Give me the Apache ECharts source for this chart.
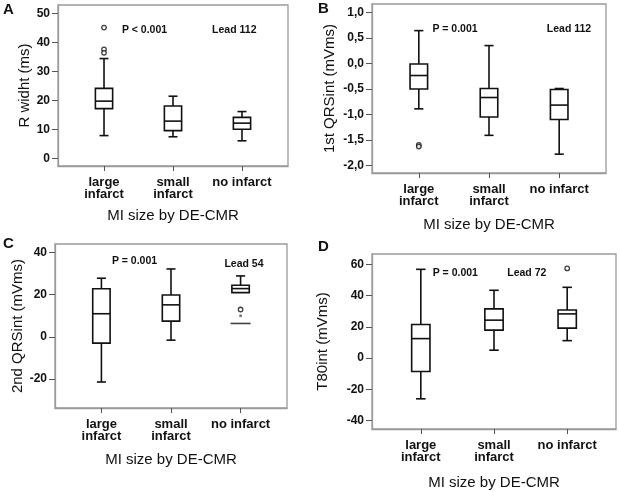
<!DOCTYPE html>
<html><head><meta charset="utf-8">
<script src="https://cdn.jsdelivr.net/npm/echarts@6/dist/echarts.min.js"></script>
<style>html,body{margin:0;padding:0;background:#fff}#c{width:620px;height:492px}</style>
</head><body><div id="c"></div>
<script>
// ---- data ----
const categories = ['large\ninfarct', 'small\ninfarct', 'no infarct'];
const xTitle = 'MI size by DE-CMR';
// each box: [lower whisker, Q1, median, Q3, upper whisker]
const boxA = [[7.9, 17.2, 19.8, 24.2, 34.5], [7.5, 9.6, 12.9, 18.1, 21.5], [6.1, 10.1, 12.2, 14.2, 16.2]];
const outA = [[0, 45.2], [0, 37.7], [0, 36.5]];
const boxB = [[-0.89, -0.50, -0.235, -0.01, 0.647], [-1.41, -1.05, -0.667, -0.49, 0.353], [-1.78, -1.10, -0.816, -0.51, -0.49]];
const outB = [[0, -1.60], [0, -1.63]];
const boxC = [[-21.4, -3.0, 10.9, 22.7, 27.7], [-1.6, 7.4, 15.1, 19.8, 32.1], [null, 20.9, 22.8, 24.4, 28.8]];
const outC = [[2, 12.9]];
const extremeC = [[2, 9.9]];
const capC = [[2, 6.3]];
const boxD = [[-26.0, -8.5, 12.5, 21.5, 56.8], [5.1, 17.9, 24.3, 31.5, 43.4], [11.2, 19.2, 28.3, 30.8, 45.3]];
const outD = [[2, 57.4]];
const ticksA = [0, 10, 20, 30, 40, 50];
const ticksB = [-2.0, -1.5, -1.0, -0.5, 0.0, 0.5, 1.0];
const ticksC = [-20, 0, 20, 40];
const ticksD = [-40, -20, 0, 20, 40, 60];
const yTitles = ['R widht (ms)', '1st QRSint (mVms)', '2nd QRSint (mVms)', 'T80int (mVms)'];
const pTexts = ['P < 0.001', 'P = 0.001', 'P = 0.001', 'P = 0.001'];
const leadTexts = ['Lead 112', 'Lead 112', 'Lead 54', 'Lead 72'];
const letters = ['A', 'B', 'C', 'D'];

// ---- chart ----
const FONT = "'Liberation Sans', Arial, Helvetica, sans-serif";
const INK = '#111';
const grids = [
  {left: 58, top: 5, width: 230, height: 161},
  {left: 372, top: 4, width: 234, height: 169},
  {left: 55, top: 244, width: 232, height: 164},
  {left: 372, top: 254, width: 244, height: 175}
];
const yRanges = [[-2.6, 53], [-2.15, 1.17], [-33.7, 43.9], [-45.3, 66.6]];
const yTicks = [ticksA, ticksB, ticksC, ticksD];
const yFmt = [
  v => String(v),
  v => v.toFixed(1).replace('.', ','),
  v => String(v),
  v => String(v)
];
const yNameGap = [21, 35, 25, 42];
const xNameGap = [42, 44, 44, 46];

function renderBox(params, api) {
  const x = api.value(0);
  const lo = api.value(1), q1 = api.value(2), med = api.value(3), q3 = api.value(4), hi = api.value(5);
  const w = api.size([0.25, 0])[0];
  const cw = api.size([0.13, 0])[0];
  const cx = api.coord([x, med])[0];
  const yq1 = api.coord([x, q1])[1], yq3 = api.coord([x, q3])[1], ym = api.coord([x, med])[1];
  const st = {stroke: INK, lineWidth: 1.6, fill: null};
  const ch = [];
  if (!isNaN(hi)) {
    const yh = api.coord([x, hi])[1];
    ch.push({type: 'line', shape: {x1: cx, y1: yq3, x2: cx, y2: yh}, style: st});
    ch.push({type: 'line', shape: {x1: cx - cw / 2, y1: yh, x2: cx + cw / 2, y2: yh}, style: st});
  }
  if (!isNaN(lo)) {
    const yl = api.coord([x, lo])[1];
    ch.push({type: 'line', shape: {x1: cx, y1: yq1, x2: cx, y2: yl}, style: st});
    ch.push({type: 'line', shape: {x1: cx - cw / 2, y1: yl, x2: cx + cw / 2, y2: yl}, style: st});
  }
  ch.push({type: 'rect', shape: {x: cx - w / 2, y: yq3, width: w, height: yq1 - yq3}, style: {stroke: INK, lineWidth: 1.6, fill: '#fff'}});
  ch.push({type: 'line', shape: {x1: cx - w / 2, y1: ym, x2: cx + w / 2, y2: ym}, style: st});
  return {type: 'group', children: ch};
}

const boxes = [boxA, boxB, boxC, boxD];
const outs = [outA, outB, outC, outD];

const option = {
  animation: false,
  backgroundColor: '#fff',
  textStyle: {fontFamily: FONT},
  grid: grids.map(g => Object.assign({show: true, borderColor: '#9a9a9a', borderWidth: 1.3, backgroundColor: '#fff'}, g)),
  xAxis: grids.map((g, i) => ({
    type: 'value', gridIndex: i, min: -0.667, max: 2.667,
    name: xTitle, nameLocation: 'middle', nameGap: xNameGap[i],
    nameTextStyle: {fontFamily: FONT, fontSize: 15, color: INK},
    axisLine: {show: true, onZero: false, lineStyle: {color: '#9a9a9a', width: 1.3}},
    axisTick: {show: true, customValues: [0, 1, 2], length: 5, lineStyle: {color: '#555'}},
    axisLabel: {customValues: [0, 1, 2], formatter: v => categories[Math.round(v)], fontFamily: FONT, fontSize: 13, fontWeight: 'bold', color: INK, lineHeight: 12, margin: 10},
    splitLine: {show: false}
  })),
  yAxis: grids.map((g, i) => ({
    type: 'value', gridIndex: i, min: yRanges[i][0], max: yRanges[i][1],
    name: yTitles[i], nameLocation: 'middle', nameGap: yNameGap[i], nameRotate: 90,
    nameTextStyle: {fontFamily: FONT, fontSize: 15, color: INK},
    axisLine: {show: true, onZero: false, lineStyle: {color: '#9a9a9a', width: 1.3}},
    axisTick: {show: true, customValues: yTicks[i], length: 6, lineStyle: {color: '#555'}},
    axisLabel: {customValues: yTicks[i], formatter: yFmt[i], fontFamily: FONT, fontSize: 12, fontWeight: 'bold', color: INK, margin: 8},
    splitLine: {show: false}
  })),
  series: [].concat(
    boxes.map((b, i) => ({
      type: 'custom', xAxisIndex: i, yAxisIndex: i, renderItem: renderBox,
      encode: {x: 0, y: [1, 2, 3, 4, 5]},
      data: b.map((r, k) => [k].concat(r.map(v => v === null ? '-' : v)))
    })),
    outs.map((o, i) => ({
      type: 'scatter', xAxisIndex: i, yAxisIndex: i, data: o,
      symbol: 'circle', symbolSize: 4.5,
      itemStyle: {color: '#fff', borderColor: INK, borderWidth: 1.3}, z: 5
    })),
    [{
      type: 'scatter', xAxisIndex: 2, yAxisIndex: 2, data: extremeC,
      symbol: 'circle', symbolSize: 3, itemStyle: {color: '#555'}, z: 5
    }, {
      type: 'scatter', xAxisIndex: 2, yAxisIndex: 2, data: capC,
      symbol: 'rect', symbolSize: [20, 1.6], itemStyle: {color: INK}, z: 5
    }]
  ),
  graphic: [].concat(
    [[144.5, 30], [455, 29.3], [134.5, 261], [455.3, 272.7]].map((p, i) => ({
      type: 'text', x: p[0], y: p[1],
      style: {text: pTexts[i], font: 'bold 10.5px ' + FONT, fill: INK, textAlign: 'center', textVerticalAlign: 'middle'}
    })),
    [[234.3, 30], [569, 29.3], [244, 264], [526.8, 272.7]].map((p, i) => ({
      type: 'text', x: p[0], y: p[1],
      style: {text: leadTexts[i], font: 'bold 10.5px ' + FONT, fill: INK, textAlign: 'center', textVerticalAlign: 'middle'}
    })),
    [[3, 9.5], [318, 8.5], [3, 244], [318, 247]].map((p, i) => ({
      type: 'text', x: p[0], y: p[1],
      style: {text: letters[i], font: 'bold 15px ' + FONT, fill: INK, textAlign: 'left', textVerticalAlign: 'middle'}
    }))
  )
};
const chart = echarts.init(document.getElementById('c'), null, {renderer: 'canvas'});
chart.setOption(option);
</script></body></html>
